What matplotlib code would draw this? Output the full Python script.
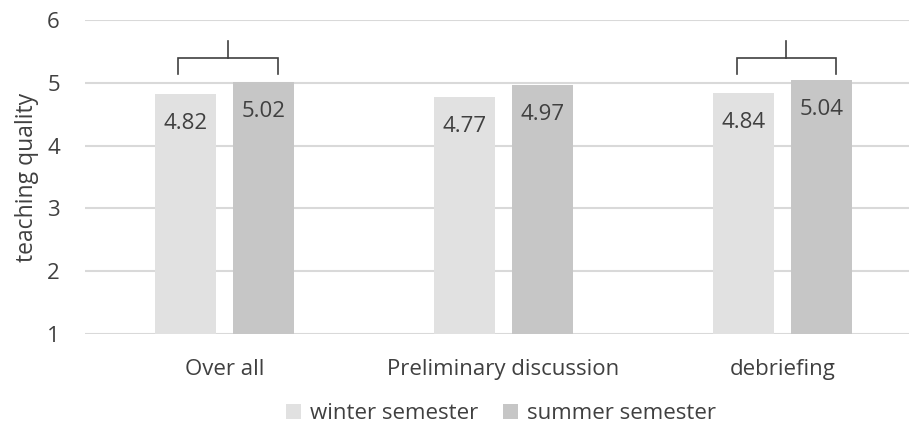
import numpy as np
import matplotlib.pyplot as plt

# teaching quality ratings per part of the course
categories = ['Over all', 'Preliminary discussion', 'debriefing']
winter = [4.82, 4.77, 4.84]
summer = [5.02, 4.97, 5.04]
series_names = ['winter semester', 'summer semester']
yticks = [1, 2, 3, 4, 5, 6]
# categories that get a comparison bracket
bracketed = [0, 2]

plt.rcParams['font.family'] = ['Open Sans', 'DejaVu Sans']

fig = plt.figure(figsize=(9.09, 4.25), dpi=100)
ax = fig.add_axes([0.0935, 0.214, 0.921, 0.739])

x = np.arange(len(categories))
width = 0.22
offset = 0.14
colors = ['#e1e1e1', '#c6c6c6']
text_col = '#404040'

bars_w = ax.bar(x - offset, np.array(winter) - 1, width, bottom=1,
                color=colors[0], label=series_names[0], zorder=2)
bars_s = ax.bar(x + offset, np.array(summer) - 1, width, bottom=1,
                color=colors[1], label=series_names[1], zorder=2)

# value labels just inside the top of each bar
for bars, vals in ((bars_w, winter), (bars_s, summer)):
    for b, v in zip(bars, vals):
        ax.text(b.get_x() + b.get_width() / 2, v - 0.47, f'{v:.2f}',
                ha='center', va='center', fontsize=16, color=text_col, zorder=3)

# brackets above the compared pairs
for i in bracketed:
    xl, xr = i - offset - 0.025, i + offset + 0.05
    y_leg, y_bar, y_top = 5.14, 5.39, 5.66
    ax.plot([xl, xl, xr, xr], [y_leg, y_bar, y_bar, y_leg],
            color=text_col, lw=1.2, zorder=3, solid_joinstyle='miter')
    xm = (xl + xr) / 2
    ax.plot([xm, xm], [y_bar, y_top], color=text_col, lw=1.2, zorder=3)

ax.set_xlim(-0.5, len(categories) - 0.5)
ax.set_ylim(1, 6)
ax.set_yticks(yticks)
ax.grid(axis='y', color='#d9d9d9', lw=1.5, zorder=0)
ax.set_axisbelow(True)
for s in ax.spines.values():
    s.set_visible(False)
ax.tick_params(axis='both', length=0, labelsize=16, colors=text_col)
ax.tick_params(axis='y', pad=18)
ax.tick_params(axis='x', pad=18)
ax.set_xticks(x)
ax.set_xticklabels(categories)
ax.set_ylabel('teaching quality', fontsize=16.5, color=text_col, labelpad=6)

fig.legend(handles=[bars_w, bars_s], labels=series_names, loc='center',
           bbox_to_anchor=(0.551, 0.026), ncol=2, frameon=False, fontsize=16,
           handlelength=0.7, handleheight=0.7, handletextpad=0.4,
           columnspacing=1.1, labelcolor=text_col, borderpad=0)

fig.savefig('out.png', dpi=100)
